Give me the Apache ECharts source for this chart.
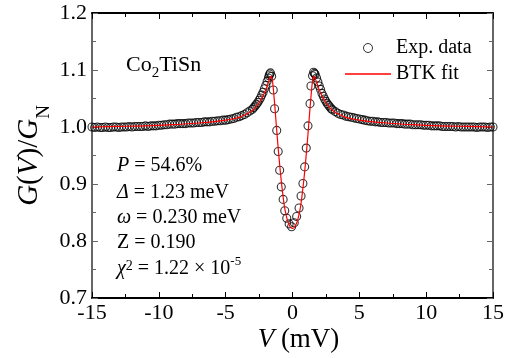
<!DOCTYPE html>
<html>
<head>
<meta charset="utf-8">
<script src="https://cdn.jsdelivr.net/npm/echarts@6/dist/echarts.min.js"></script>
<style>
html,body{margin:0;padding:0;background:#fff;}
#c{width:506px;height:358px;}
</style>
</head>
<body>
<div id="c"></div>
<script>
// Experimental data: bias voltage V (mV) and normalized conductance G/GN
const expV = [
-15.0,-14.8,-14.6,-14.4,-14.2,-14.0,-13.8,-13.6,-13.4,-13.2,
-13.0,-12.8,-12.6,-12.4,-12.2,-12.0,-11.8,-11.6,-11.4,-11.2,
-11.0,-10.8,-10.6,-10.4,-10.2,-10.0,-9.8,-9.6,-9.4,-9.2,
-9.0,-8.8,-8.6,-8.4,-8.2,-8.0,-7.8,-7.6,-7.4,-7.2,
-7.0,-6.8,-6.6,-6.4,-6.2,-6.0,-5.8,-5.6,-5.4,-5.2,
-5.0,-4.8,-4.6,-4.4,-4.2,-4.0,-3.8,-3.6,-3.4,-3.2,
-3.0,-2.9,-2.8,-2.7,-2.6,-2.5,-2.4,-2.3,-2.2,-2.1,
-2.0,-1.9,-1.8,-1.75,-1.7,-1.65,-1.56,-1.44,-1.34,-1.18,
-1.07,-0.96,-0.84,-0.70,-0.58,-0.43,-0.25,-0.07,0.13,0.31,
0.49,0.64,0.78,0.91,1.03,1.16,1.31,1.38,1.50,1.58,
1.65,1.7,1.8,1.9,2.0,2.1,2.2,2.3,2.4,2.5,
2.6,2.7,2.8,2.9,3.0,3.2,3.4,3.6,3.8,4.0,
4.2,4.4,4.6,4.8,5.0,5.2,5.4,5.6,5.8,6.0,
6.2,6.4,6.6,6.8,7.0,7.2,7.4,7.6,7.8,8.0,
8.2,8.4,8.6,8.8,9.0,9.2,9.4,9.6,9.8,10.0,
10.2,10.4,10.6,10.8,11.0,11.2,11.4,11.6,11.8,12.0,
12.2,12.4,12.6,12.8,13.0,13.2,13.4,13.6,13.8,14.0,
14.2,14.4,14.6,14.8,15.0
];
const expG = [
1.000,0.999,1.000,0.999,0.999,1.000,0.999,0.999,1.000,1.000,
0.999,1.000,1.000,1.000,1.001,1.000,1.001,1.001,1.001,1.001,
1.002,1.001,1.002,1.002,1.002,1.003,1.003,1.004,1.004,1.005,
1.005,1.005,1.006,1.006,1.006,1.006,1.007,1.007,1.007,1.008,
1.008,1.008,1.009,1.009,1.009,1.010,1.010,1.011,1.011,1.012,
1.012,1.013,1.014,1.015,1.017,1.018,1.020,1.022,1.025,1.028,
1.031,1.034,1.037,1.040,1.043,1.047,1.051,1.056,1.061,1.067,
1.073,1.080,1.086,1.090,1.093,1.095,1.089,1.065,1.032,0.994,
0.957,0.924,0.895,0.873,0.853,0.840,0.830,0.825,0.832,0.843,
0.858,0.879,0.901,0.930,0.963,1.002,1.041,1.072,1.090,1.096,
1.094,1.092,1.086,1.079,1.072,1.066,1.059,1.054,1.049,1.045,
1.041,1.038,1.035,1.032,1.030,1.027,1.024,1.022,1.021,1.019,
1.018,1.017,1.016,1.015,1.014,1.013,1.012,1.011,1.010,1.010,
1.009,1.009,1.008,1.008,1.008,1.007,1.007,1.007,1.006,1.006,
1.006,1.005,1.005,1.005,1.004,1.004,1.004,1.004,1.003,1.003,
1.003,1.002,1.002,1.002,1.002,1.001,1.001,1.001,1.001,1.001,
1.000,1.001,1.000,1.000,1.000,1.000,1.000,1.000,0.999,1.000,
1.000,1.000,0.999,1.000,1.000
];
// BTK fit curve
const fitV = [
-15,-13,-11,-9,-7,-6,-5,-4.5,-4,-3.5,-3,-2.7,-2.4,-2.2,-2.0,-1.9,-1.8,-1.7,-1.65,-1.6,
-1.55,-1.5,-1.45,-1.4,-1.3,-1.2,-1.1,-1.0,-0.9,-0.8,-0.7,-0.6,-0.5,-0.4,-0.3,-0.2,-0.1,0,
0.1,0.2,0.3,0.4,0.5,0.6,0.7,0.8,0.9,1.0,1.1,1.2,1.3,1.4,1.45,1.5,1.55,
1.6,1.65,1.7,1.8,1.9,2.0,2.2,2.4,2.7,3,3.5,4,4.5,5,6,7,9,11,13,15
];
const fitG = [
1.000,1.001,1.002,1.004,1.007,1.009,1.012,1.014,1.017,1.022,1.029,1.036,1.046,1.055,1.065,1.072,1.079,1.085,1.088,1.089,
1.087,1.081,1.071,1.058,1.030,1.000,0.971,0.944,0.919,0.897,0.877,0.860,0.848,0.838,0.831,0.826,0.823,0.822,
0.823,0.826,0.831,0.838,0.848,0.860,0.877,0.897,0.919,0.944,0.971,1.000,1.030,1.058,1.071,1.081,1.087,
1.089,1.088,1.085,1.079,1.072,1.065,1.055,1.046,1.036,1.029,1.022,1.017,1.014,1.012,1.009,1.007,1.004,1.002,1.001,1.000
];
const seriesNames = ['Exp. data', 'BTK fit'];
const xRange = [-15, 15, 5];
const yRange = [0.7, 1.2, 0.1];
const sampleName = ['Co', '2', 'TiSn'];
const params = [
  '{i|P}{t| = 54.6%}',
  '{i|Δ}{t| = 1.23 meV}',
  '{i|ω}{t| = 0.230 meV}',
  '{t|Z = 0.190}',
  '{i|χ}{sq|2}{t| = 1.22 × 10}{sp|-5}'
];

const FONT = "'Liberation Serif','Times New Roman',serif";
const expData = expV.map((v, i) => [v, expG[i]]);
const fitData = fitV.map((v, i) => [v, fitG[i]]);

const axisX = (pos, show) => ({
  type: 'value', position: pos, min: xRange[0], max: xRange[1], interval: xRange[2],
  axisLine: { show: true, onZero: false, lineStyle: { color: '#000', width: 2 } },
  axisTick: { show: true, inside: true, length: 6, lineStyle: { color: '#000', width: 1 } },
  minorTick: { show: true, splitNumber: 2, length: 4, lineStyle: { color: '#000', width: 1 } },
  splitLine: { show: false },
  axisLabel: { show: show, margin: 4, color: '#000', fontFamily: FONT, fontSize: 22 }
});
const axisY = (pos, show) => ({
  type: 'value', position: pos, min: yRange[0], max: yRange[1], interval: yRange[2],
  axisLine: { show: true, onZero: false, lineStyle: { color: '#666', width: 2 } },
  axisTick: { show: true, inside: true, length: 6, lineStyle: { color: '#666', width: 1 } },
  minorTick: { show: true, splitNumber: 2, length: 4, lineStyle: { color: '#666', width: 1 } },
  splitLine: { show: false },
  axisLabel: { show: show, margin: 5, color: '#000', fontFamily: FONT, fontSize: 22,
    formatter: v => v.toFixed(1) }
});

const xMain = axisX('bottom', true);
xMain.name = '{i|V}{n| (mV)}';
xMain.nameLocation = 'middle';
xMain.nameGap = 28;
xMain.nameMoveOverlap = false;
xMain.nameTextStyle = {
  color: '#000', fontFamily: FONT, fontSize: 27, padding: [0, 0, 0, 12],
  rich: {
    i: { fontFamily: FONT, fontSize: 27, fontStyle: 'italic', color: '#000', lineHeight: 27 },
    n: { fontFamily: FONT, fontSize: 27, color: '#000', lineHeight: 27 }
  }
};
const yMain = axisY('left', true);
yMain.name = '{i|G}{n|(}{i|V}{n|)/}{i|G}{s|N}';
yMain.nameLocation = 'middle';
yMain.nameGap = 48;
yMain.nameMoveOverlap = false;
yMain.nameTextStyle = {
  color: '#000', fontFamily: FONT, fontSize: 29, padding: [0, 0, 0, 0],
  rich: {
    i: { fontFamily: FONT, fontSize: 29, fontStyle: 'italic', color: '#000', lineHeight: 29 },
    n: { fontFamily: FONT, fontSize: 29, color: '#000', lineHeight: 29 },
    s: { fontFamily: FONT, fontSize: 19, color: '#000', lineHeight: 1, padding: [30, 0, 0, 0] }
  }
};

const richParams = {
  t: { fontFamily: FONT, fontSize: 20, fill: '#000', lineHeight: 24 },
  i: { fontFamily: FONT, fontSize: 20, fontStyle: 'italic', fill: '#000', lineHeight: 24 },
  sq: { fontFamily: FONT, fontSize: 14, fill: '#000', lineHeight: 1, padding: [0, 0, 6, 0] },
  sp: { fontFamily: FONT, fontSize: 13, fill: '#000', lineHeight: 1, padding: [0, 0, 14, 0] }
};
const paramY = [166, 192.5, 217.5, 243, 269];
const graphics = params.map((txt, k) => ({
  type: 'text', x: 117, y: paramY[k],
  style: {
    text: txt, rich: richParams,
    fontFamily: FONT, fontSize: 20, fill: '#000', verticalAlign: 'middle', align: 'left'
  }
}));
graphics.push({
  type: 'text', x: 126, y: 65,
  style: {
    text: '{m|' + sampleName[0] + '}{s|' + sampleName[1] + '}{m|' + sampleName[2] + '}',
    rich: {
      m: { fontFamily: FONT, fontSize: 22, fill: '#000', lineHeight: 24 },
      s: { fontFamily: FONT, fontSize: 15, fill: '#000', lineHeight: 1, padding: [16, 0, 0, 0] }
    },
    fontFamily: FONT, fontSize: 22, fill: '#000', verticalAlign: 'middle', align: 'left'
  }
});

const chart = echarts.init(document.getElementById('c'), null, { renderer: 'canvas' });
chart.setOption({
  backgroundColor: '#fff',
  animation: false,
  grid: { left: 92, right: 13, top: 13, bottom: 60, containLabel: false, outerBoundsMode: 'none' },
  xAxis: [xMain, axisX('top', false)],
  yAxis: [yMain, axisY('right', false)],
  legend: {
    orient: 'vertical', left: 345, top: 38, padding: 0, itemWidth: 46, itemHeight: 9, itemGap: 6,
    textStyle: { fontFamily: FONT, fontSize: 20, color: '#000' },
    data: [
      { name: seriesNames[0], icon: 'circle',
        itemStyle: { color: 'rgba(0,0,0,0)', borderColor: '#000', borderWidth: 1 } },
      { name: seriesNames[1], icon: 'path://M0,0H100V3H0Z',
        itemStyle: { color: '#ff0000', borderWidth: 0 } }
    ]
  },
  series: [
    {
      name: seriesNames[0], type: 'scatter', data: expData, symbol: 'circle', symbolSize: 8,
      itemStyle: { color: 'rgba(0,0,0,0)', borderColor: '#000', borderWidth: 1.1 }, z: 2
    },
    {
      name: seriesNames[1], type: 'line', data: fitData, symbol: 'none', smooth: 0.3,
      lineStyle: { color: '#ff0000', width: 1.2 }, itemStyle: { color: '#ff0000' }, z: 3
    }
  ],
  graphic: graphics
});
</script>
</body>
</html>
